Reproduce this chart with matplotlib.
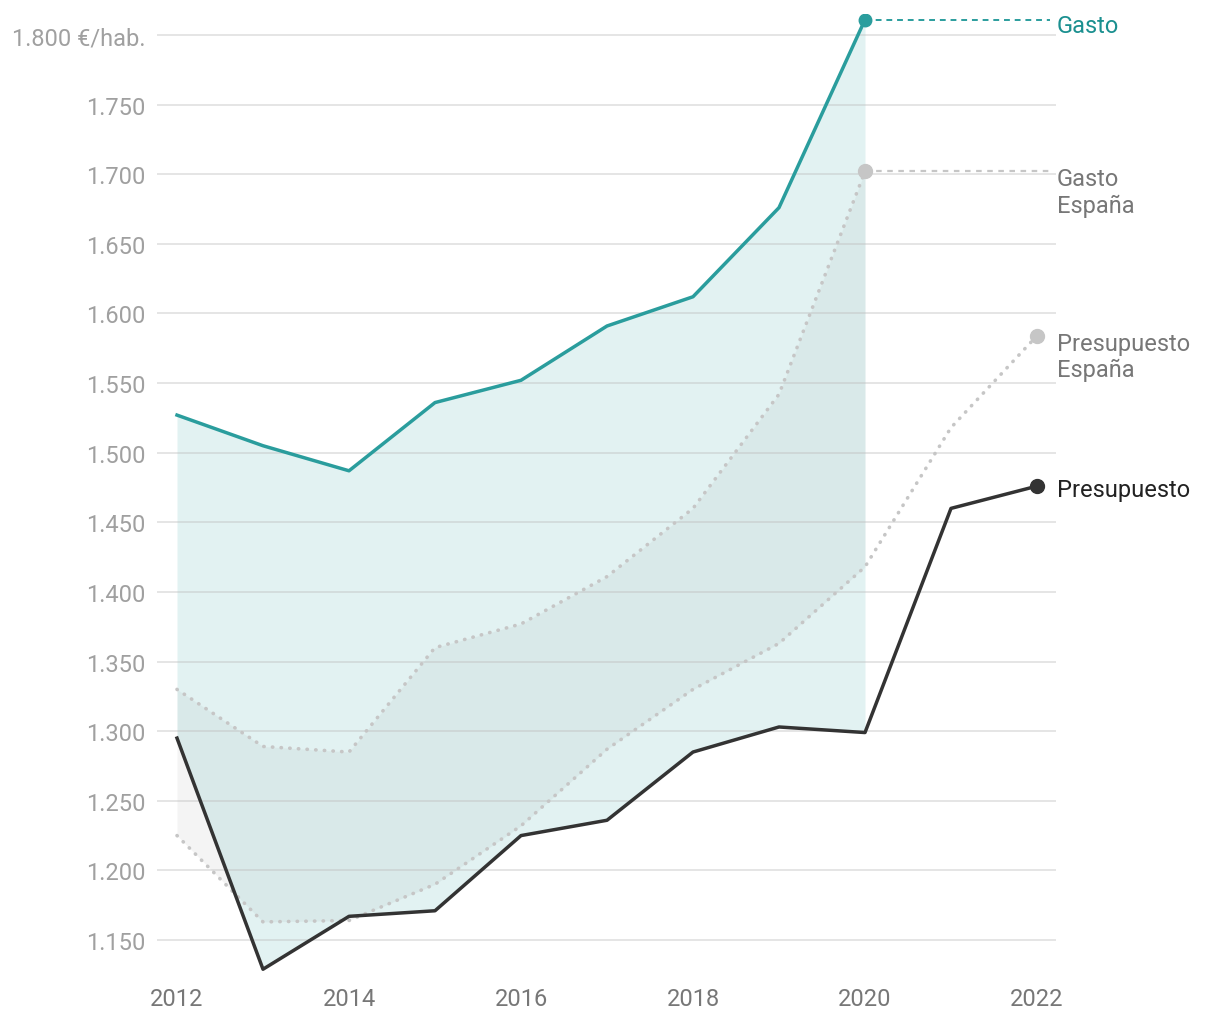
import numpy as np
import matplotlib.pyplot as plt

plt.rcParams['font.family'] = ['Roboto', 'DejaVu Sans']

# Data (€/habitante)
years = [2012, 2013, 2014, 2015, 2016, 2017, 2018, 2019, 2020, 2021, 2022]
gasto = [1527, 1505, 1487, 1536, 1552, 1591, 1612, 1676, 1811]
presupuesto = [1295, 1129, 1167, 1171, 1225, 1236, 1285, 1303, 1299, 1460, 1476]
gasto_espana = [1330, 1289, 1285, 1360, 1377, 1411, 1460, 1542, 1702]
presup_espana = [1225, 1163, 1164, 1190, 1232, 1287, 1330, 1363, 1418, 1518, 1584]

yticks = [1150, 1200, 1250, 1300, 1350, 1400, 1450, 1500, 1550, 1600, 1650, 1700, 1750, 1800]
ytick_labels = ['1.150', '1.200', '1.250', '1.300', '1.350', '1.400', '1.450', '1.500',
                '1.550', '1.600', '1.650', '1.700', '1.750', '1.800 €/hab.']
xticks = [2012, 2014, 2016, 2018, 2020, 2022]

teal = '#2a9d9d'
teal_txt = '#1b9090'
dot_gray = '#c6c6c6'
dark = '#333333'

fig = plt.figure(figsize=(12.2, 10.2), dpi=100)
ax = fig.add_axes([157 / 1220, 1 - 985 / 1020, (1056 - 157) / 1220, 970 / 1020])

n = len(gasto)
yrs_g = years[:n]

# filled areas
ax.fill_between(yrs_g, gasto_espana, presup_espana[:n], color='#b0b0b0', alpha=0.13, lw=0, zorder=1)
ax.fill_between(yrs_g, gasto, presupuesto[:n], color='#7cc4c4', alpha=0.22, lw=0, zorder=1)

# grid
for t in yticks:
    ax.axhline(t, color='#bdbdbd', lw=1.4, alpha=0.4, zorder=2)

# lines
ax.plot(yrs_g, gasto_espana, color=dot_gray, lw=2.6, ls=(0, (0.1, 2.3)),
        dash_capstyle='round', zorder=3)
ax.plot(years, presup_espana, color=dot_gray, lw=2.6, ls=(0, (0.1, 2.3)),
        dash_capstyle='round', zorder=3)
ax.plot(yrs_g, gasto, color=teal, lw=2.5, zorder=4)
ax.plot(years, presupuesto, color=dark, lw=2.5, zorder=4)

# end markers and connectors
label_x = 2022.23
ax.plot([yrs_g[-1], label_x - 0.08], [gasto[-1]] * 2, color=teal, lw=1.4, ls=(0, (3, 2.5)), zorder=3)
ax.plot([yrs_g[-1], label_x - 0.06], [gasto_espana[-1]] * 2, color=dot_gray, lw=1.6,
        ls=(0, (2.5, 2.5)), zorder=3)
ax.plot(yrs_g[-1], gasto[-1], 'o', color=teal, ms=9, zorder=5)
ax.plot(yrs_g[-1], gasto_espana[-1], 'o', color=dot_gray, ms=10, zorder=5)
ax.plot(years[-1], presup_espana[-1], 'o', color=dot_gray, ms=10, zorder=5)
ax.plot(years[-1], presupuesto[-1], 'o', color=dark, ms=10, zorder=5)

# labels
fs = 17
ax.text(label_x, gasto[-1] - 4, 'Gasto', color=teal_txt, fontsize=fs, va='center', ha='left',
        clip_on=False)
ax.text(label_x, gasto_espana[-1] + 3, 'Gasto\nEspaña', color='#777777', fontsize=fs,
        va='top', ha='left', linespacing=1.2, clip_on=False)
ax.text(label_x, presup_espana[-1] + 3, 'Presupuesto\nEspaña', color='#777777', fontsize=fs,
        va='top', ha='left', linespacing=1.2, clip_on=False)
ax.text(label_x, presupuesto[-1] - 2.5, 'Presupuesto', color='#222222', fontsize=fs,
        va='center', ha='left', clip_on=False)

ax.set_xlim(2012 - 20 / 86, 2022 + 19 / 86)
ax.set_ylim(1150 - 44 / 1.3923, 1800 + 21 / 1.3923)
ax.set_yticks(yticks)
ax.set_yticklabels(ytick_labels)
ax.set_xticks(xticks)
ax.tick_params(axis='y', length=0, pad=8.5, labelsize=17, labelcolor='#a0a0a0')
ax.tick_params(axis='x', length=0, pad=2, labelsize=17, labelcolor='#777777')
for s in ax.spines.values():
    s.set_visible(False)
ax.patch.set_alpha(0)

fig.savefig('out.png', dpi=100)
